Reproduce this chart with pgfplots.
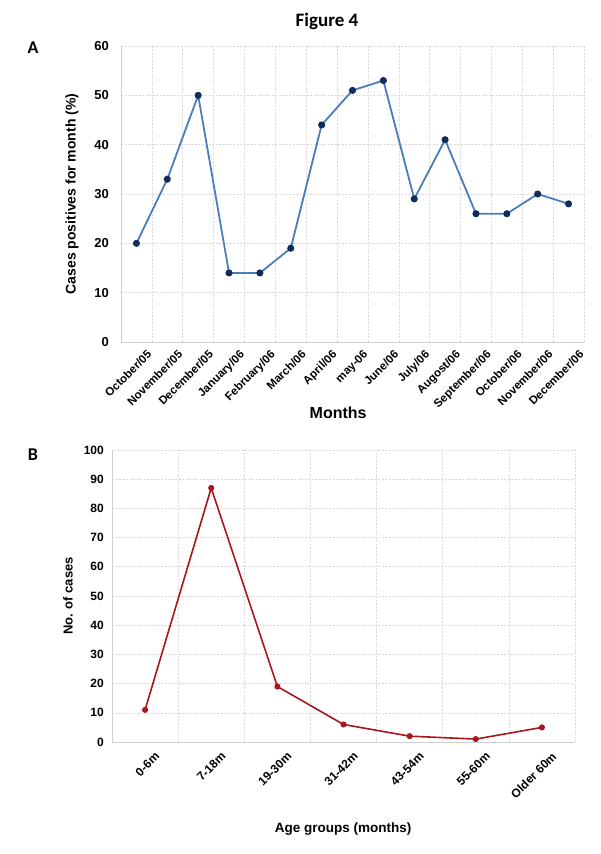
\documentclass[border=0pt]{standalone}
\usepackage{pgfplots}
\pgfplotsset{compat=1.18}
\usepackage{fontspec}
\setmainfont{Liberation Sans}
\newfontfamily\calib{Carlito}
\definecolor{lineblue}{HTML}{4A7EBB}
\definecolor{markblue}{HTML}{102C5C}
\definecolor{linered}{HTML}{A5161D}
\definecolor{gridgray}{HTML}{D9D9D9}
\definecolor{axisgray}{HTML}{CFCFCF}
\begin{document}
\begin{tikzpicture}[x=1pt,y=1pt]
\useasboundingbox (0,0) rectangle (600,854);
\node[font=\calib\bfseries\fontsize{19}{21}\selectfont] at (327,833) {Figure 4};
\node[font=\calib\bfseries\fontsize{18}{20}\selectfont] at (33,806.5) {A};
\node[font=\calib\bfseries\fontsize{18}{20}\selectfont] at (33,399) {B};

\begin{axis}[
  at={(121pt,512pt)}, anchor=south west,
  width=463pt, height=296pt, scale only axis,
  xmin=-0.5, xmax=14.5, ymin=0, ymax=60,
  xtick={0,...,14},
  xticklabels={October/05,November/05,December/05,January/06,February/06,March/06,April/06,may-06,June/06,July/06,Augost/06,September/06,October/06,November/06,December/06},
  minor xtick={0.5,1.5,...,14.5},
  ytick={0,10,...,60},
  xmajorgrids=false, xminorgrids=true, ymajorgrids=true,
  major grid style={gridgray, dash pattern=on 2pt off 1.5pt, line width=0.6pt},
  minor grid style={gridgray, dash pattern=on 2pt off 1.5pt, line width=0.6pt},
  axis x line*=bottom, axis y line*=left,
  axis line style={axisgray, line width=0.8pt, -},
  major tick length=0pt, minor tick length=0pt,
  /pgf/number format/assume math mode=true,
  yticklabel style={font=\bfseries\fontsize{13}{15}\selectfont, inner sep=0pt, anchor=east, xshift=-12pt},
  xticklabel style={font=\bfseries\fontsize{11.5}{13}\selectfont, rotate=45, anchor=north east, inner sep=0pt, yshift=-12pt, xshift=2pt},
  ylabel={Cases positives for month (\%)},
  ylabel style={font=\bfseries\fontsize{14}{16}\selectfont, at={(axis description cs:-0.106,0.5)}, anchor=center},
  xlabel={Months},
  xlabel style={font=\bfseries\fontsize{16}{18}\selectfont, at={(axis description cs:0.469,-0.24)}, anchor=center},
]
\addplot[lineblue, line width=1.8pt, mark=*, mark size=2.6pt, mark options={fill=markblue, draw=markblue, solid}]
coordinates {(0,20)(1,33)(2,50)(3,14)(4,14)(5,19)(6,44)(7,51)(8,53)(9,29)(10,41)(11,26)(12,26)(13,30)(14,28)};
\end{axis}

\begin{axis}[
  at={(112pt,112pt)}, anchor=south west,
  width=463pt, height=292pt, scale only axis,
  xmin=-0.5, xmax=6.5, ymin=0, ymax=100,
  xtick={0,...,6},
  xticklabels={0-6m,7-18m,19-30m,31-42m,43-54m,55-60m,Older 60m},
  minor xtick={0.5,1.5,...,6.5},
  ytick={0,10,...,100},
  xmajorgrids=false, xminorgrids=true, ymajorgrids=true,
  major grid style={gridgray, dash pattern=on 2pt off 1.5pt, line width=0.6pt},
  minor grid style={gridgray, dash pattern=on 2pt off 1.5pt, line width=0.6pt},
  axis x line*=bottom, axis y line*=left,
  axis line style={axisgray, line width=0.8pt, -},
  major tick length=0pt, minor tick length=0pt,
  /pgf/number format/assume math mode=true,
  yticklabel style={font=\bfseries\fontsize{12}{14}\selectfont, inner sep=0pt, anchor=east, xshift=-8pt},
  xticklabel style={font=\bfseries\fontsize{12}{14}\selectfont, rotate=45, anchor=north east, inner sep=0pt, yshift=-13pt},
  ylabel={No. of cases},
  ylabel style={font=\bfseries\fontsize{13}{15}\selectfont, at={(axis description cs:-0.095,0.5)}, anchor=center},
  xlabel={Age groups (months)},
  xlabel style={font=\bfseries\fontsize{13.5}{15}\selectfont, at={(axis description cs:0.499,-0.298)}, anchor=center},
]
\addplot[linered, line width=1.6pt, mark=*, mark size=2.2pt, mark options={fill=linered, draw=linered, solid}]
coordinates {(0,11)(1,87)(2,19)(3,6)(4,2)(5,1)(6,5)};
\end{axis}
\end{tikzpicture}
\end{document}
